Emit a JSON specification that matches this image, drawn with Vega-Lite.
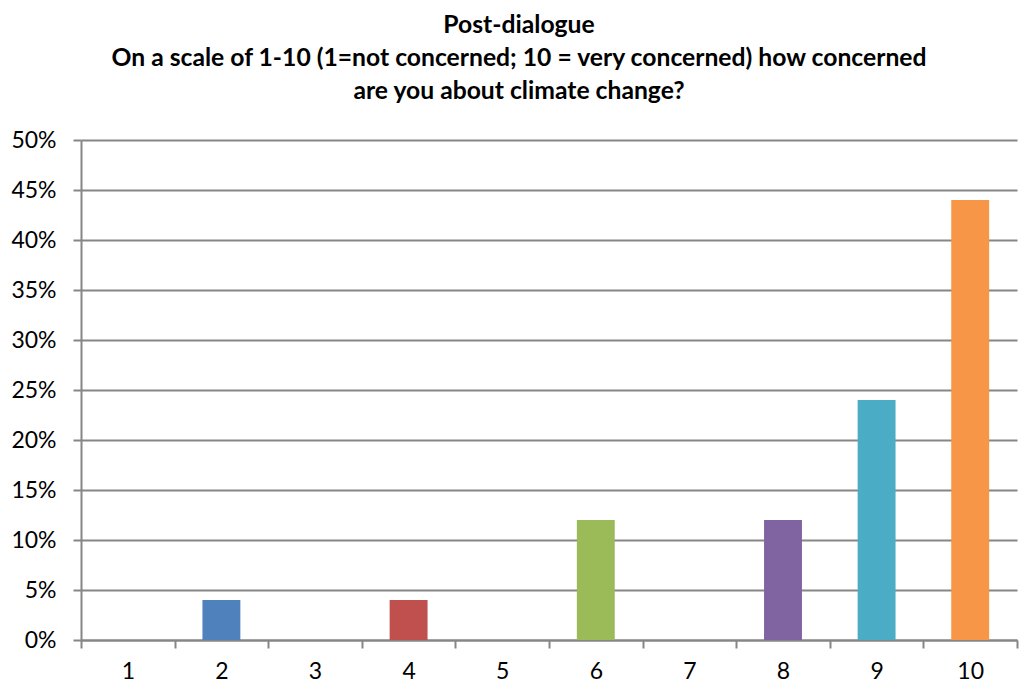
{
  "$schema": "https://vega.github.io/schema/vega-lite/v6.json",
  "autosize": {"type": "none"},
  "width": 936,
  "height": 500,
  "padding": {"left": 81, "top": 140, "right": 9, "bottom": 46},
  "background": "white",
  "title": {
    "text": ["Post-dialogue", "On a scale of 1-10 (1=not concerned; 10 = very concerned) how concerned", "are you about climate change?"],
    "font": "Lato",
    "fontSize": 24.7,
    "fontWeight": "bold",
    "color": "#000000",
    "lineHeight": 33,
    "anchor": "middle",
    "frame": "group",
    "dx": -30,
    "offset": 25
  },
  "data": {
    "values": [
      {"score": "1", "share": 0},
      {"score": "2", "share": 0.04},
      {"score": "3", "share": 0},
      {"score": "4", "share": 0.04},
      {"score": "5", "share": 0},
      {"score": "6", "share": 0.12},
      {"score": "7", "share": 0},
      {"score": "8", "share": 0.12},
      {"score": "9", "share": 0.24},
      {"score": "10", "share": 0.44}
    ]
  },
  "mark": {"type": "bar", "width": {"band": 0.405}},
  "encoding": {
    "x": {
      "field": "score",
      "type": "ordinal",
      "sort": null,
      "scale": {"paddingInner": 0, "paddingOuter": 0},
      "axis": {
        "title": null,
        "labelAngle": 0,
        "labelFont": "Lato",
        "labelFontSize": 23,
        "labelColor": "#000000",
        "labelPadding": 12,
        "tickBand": "extent",
        "tickSize": 8,
        "tickColor": "#868686",
        "tickWidth": 2,
        "domainColor": "#868686",
        "domainWidth": 2,
        "grid": false
      }
    },
    "y": {
      "field": "share",
      "type": "quantitative",
      "scale": {"domain": [0, 0.5], "nice": false},
      "axis": {
        "title": null,
        "format": ".0%",
        "values": [0, 0.05, 0.1, 0.15, 0.2, 0.25, 0.3, 0.35, 0.4, 0.45, 0.5],
        "labelFont": "Lato",
        "labelFontSize": 23,
        "labelColor": "#000000",
        "labelPadding": 17,
        "tickSize": 8,
        "tickColor": "#868686",
        "tickWidth": 2,
        "domainColor": "#868686",
        "domainWidth": 2,
        "grid": true,
        "gridColor": "#868686",
        "gridWidth": 2
      }
    },
    "color": {
      "field": "score",
      "type": "nominal",
      "sort": null,
      "scale": {
        "domain": ["1", "2", "3", "4", "5", "6", "7", "8", "9", "10"],
        "range": ["#4F81BD", "#4F81BD", "#C0504D", "#C0504D", "#9BBB59", "#9BBB59", "#8064A2", "#8064A2", "#4BACC6", "#F79646"]
      },
      "legend": null
    }
  },
  "config": {"view": {"stroke": null}}
}
